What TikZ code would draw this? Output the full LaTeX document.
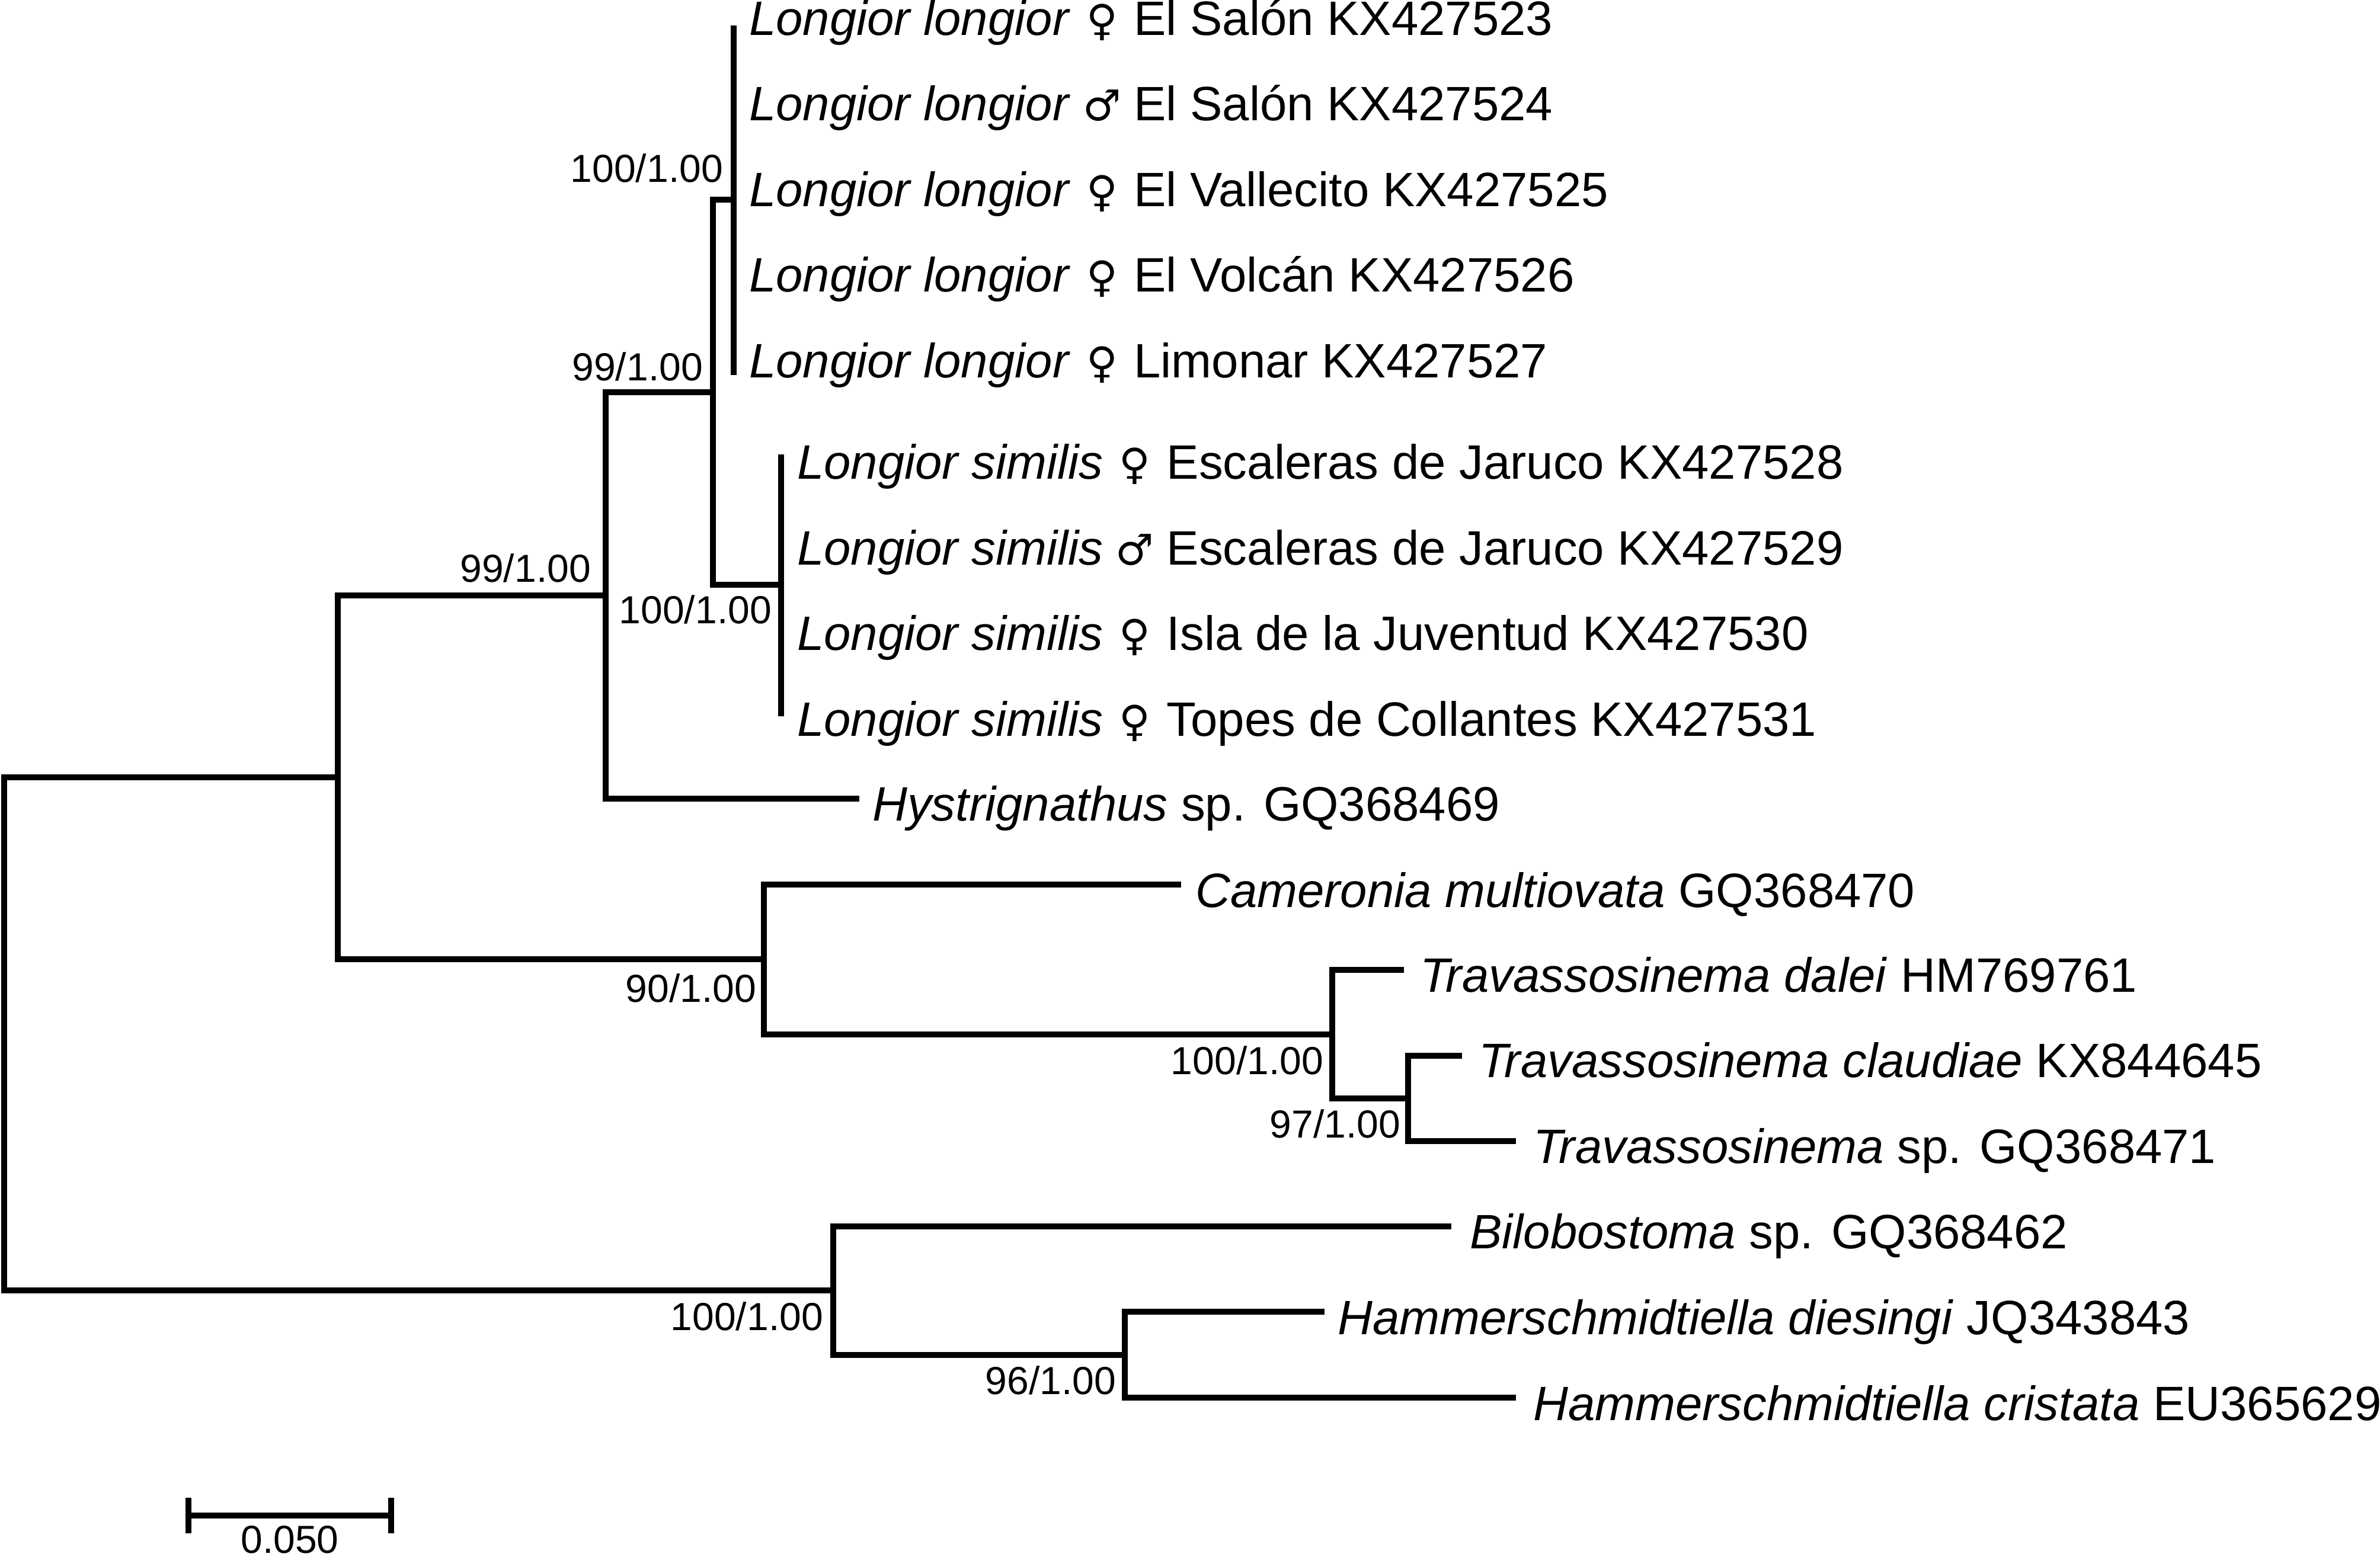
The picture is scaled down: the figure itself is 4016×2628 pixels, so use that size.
\documentclass[tikz,border=0pt]{standalone}
\usepackage{fontspec}
\setmainfont{Liberation Sans}
\newfontfamily\symfont{DejaVu Sans}
\newcommand\femsym{\makebox[62pt][c]{\symfont\fontsize{72}{80}\selectfont ♀}}
\newcommand\malsym{\makebox[62pt][c]{\symfont\fontsize{72}{80}\selectfont ♂}}
\begin{document}
\begin{tikzpicture}[x=1pt,y=-1pt,
  br/.style={line width=10pt, line join=miter, line cap=butt},
  tiplab/.style={anchor=base west, inner sep=0pt, font=\fontsize{81.5}{97}\selectfont},
  suplab/.style={anchor=base east, inner sep=0pt, font=\fontsize{66}{79}\selectfont}]
\useasboundingbox (0,0) rectangle (4016,2628);
% internal nodes
\coordinate (root) at (7,1745);
\coordinate (A) at (570,1312);
\coordinate (B) at (1022,1005);
\coordinate (D) at (1203,662);
\coordinate (E) at (1238,337);
\coordinate (F) at (1318,987);
\coordinate (C) at (1289,1619);
\coordinate (G) at (2248,1746);
\coordinate (H) at (2376,1854);
\coordinate (I) at (1406,2178);
\coordinate (J) at (1898,2287);
% tip ends
\coordinate (LLa) at (1238,43);
\coordinate (LLb) at (1238,633);
\coordinate (LSa) at (1318,767);
\coordinate (LSb) at (1318,1209);
\coordinate (Hy) at (1450,1348);
\coordinate (Ca) at (1993,1493);
\coordinate (Td) at (2369,1637);
\coordinate (Tc) at (2467,1782);
\coordinate (Ts) at (2558,1926);
\coordinate (Bi) at (2449,2070);
\coordinate (Hd) at (2235,2214);
\coordinate (Hc) at (2558,2359);
% branches
\draw[br] (root) |- (A);
\draw[br] (root) |- (I);
\draw[br] (A) |- (B);
\draw[br] (A) |- (C);
\draw[br] (B) |- (D);
\draw[br] (B) |- (Hy);
\draw[br] (D) |- (E);
\draw[br] (D) |- (F);
\draw[br] (E) -- (LLa);
\draw[br] (E) -- (LLb);
\draw[br] (F) -- (LSa);
\draw[br] (F) -- (LSb);
\draw[br] (C) |- (Ca);
\draw[br] (C) |- (G);
\draw[br] (G) |- (Td);
\draw[br] (G) |- (H);
\draw[br] (H) |- (Tc);
\draw[br] (H) |- (Ts);
\draw[br] (I) |- (Bi);
\draw[br] (I) |- (J);
\draw[br] (J) |- (Hd);
\draw[br] (J) |- (Hc);
% tip labels
\node[tiplab] (t1) at (1264,60) {\textit{Longior longior} \femsym{} El Salón KX427523};
\node[tiplab] (t2) at (1264,204) {\textit{Longior longior} \malsym{} El Salón KX427524};
\node[tiplab] (t3) at (1264,348) {\textit{Longior longior} \femsym{} El Vallecito KX427525};
\node[tiplab] (t4) at (1264,492) {\textit{Longior longior} \femsym{} El Volcán KX427526};
\node[tiplab] (t5) at (1264,637) {\textit{Longior longior} \femsym{} Limonar KX427527};
\node[tiplab] (t6) at (1345,808) {\textit{Longior similis} \femsym{} Escaleras de Jaruco KX427528};
\node[tiplab] (t7) at (1345,953) {\textit{Longior similis} \malsym{} Escaleras de Jaruco KX427529};
\node[tiplab] (t8) at (1345,1097) {\textit{Longior similis} \femsym{} Isla de la Juventud KX427530};
\node[tiplab] (t9) at (1345,1242) {\textit{Longior similis} \femsym{} Topes de Collantes KX427531};
\node[tiplab] (t10) at (1472,1385) {\textit{Hystrignathus} sp. GQ368469};
\node[tiplab] (t11) at (2017,1531) {\textit{Cameronia multiovata} GQ368470};
\node[tiplab] (t12) at (2396,1674) {\textit{Travassosinema dalei} HM769761};
\node[tiplab] (t13) at (2495,1818) {\textit{Travassosinema claudiae} KX844645};
\node[tiplab] (t14) at (2587,1963) {\textit{Travassosinema} sp. GQ368471};
\node[tiplab] (t15) at (2480,2107) {\textit{Bilobostoma} sp. GQ368462};
\node[tiplab] (t16) at (2257,2252) {\textit{Hammerschmidtiella diesingi} JQ343843};
\node[tiplab] (t17) at (2587,2397) {\textit{Hammerschmidtiella cristata} EU365629};
% support values
\node[suplab] (sB) at (997,982) {99/1.00};
\node[suplab] (sD) at (1186,642) {99/1.00};
\node[suplab] (sE) at (1220,307) {100/1.00};
\node[suplab] (sF) at (1302,1052) {100/1.00};
\node[suplab] (sC) at (1276,1691) {90/1.00};
\node[suplab] (sG) at (2233,1813) {100/1.00};
\node[suplab] (sH) at (2363,1920) {97/1.00};
\node[suplab] (sI) at (1389,2245) {100/1.00};
\node[suplab] (sJ) at (1883,2353) {96/1.00};
% scale bar
\coordinate (sbL) at (318,2558);
\coordinate (sbR) at (660,2558);
\coordinate (sbLt) at (318,2528);
\coordinate (sbLb) at (318,2588);
\coordinate (sbRt) at (660,2528);
\coordinate (sbRb) at (660,2588);
\draw[br] (sbL) -- (sbR);
\draw[br] (sbLt) -- (sbLb);
\draw[br] (sbRt) -- (sbRb);
\node[suplab, anchor=base] (sbtext) at (489,2621) {0.050};
\end{tikzpicture}
\end{document}
